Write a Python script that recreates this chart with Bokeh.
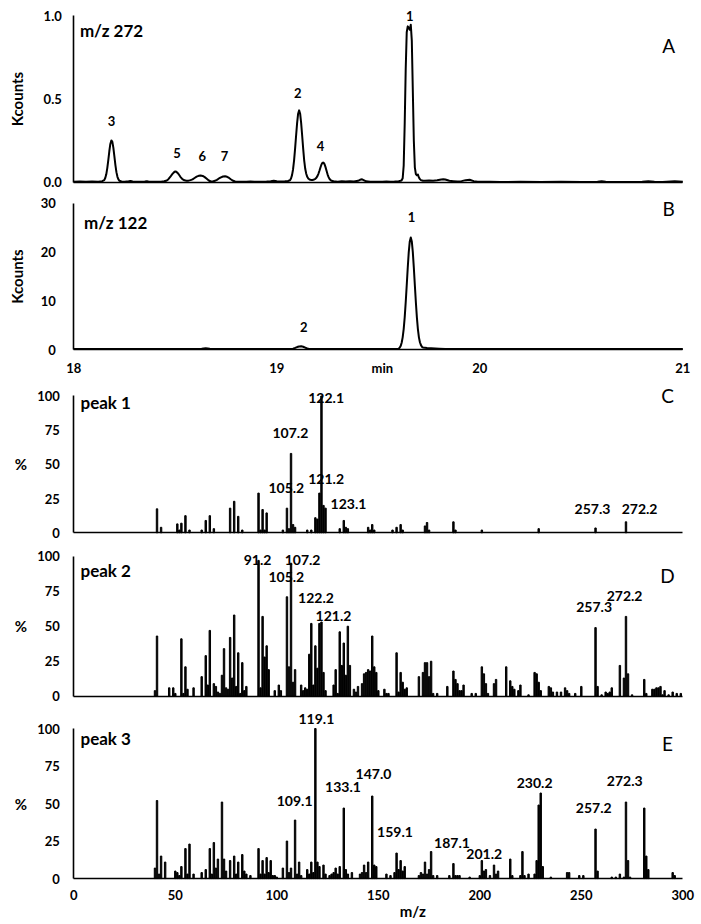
import math
from bokeh.plotting import figure
from bokeh.models import FixedTicker, Label, LabelSet, ColumnDataSource, Range1d, NumeralTickFormatter
from bokeh.layouts import column
from bokeh.embed import file_html
from bokeh.resources import INLINE
from bokeh.core.properties import value

FONT = "Lato"

# ---------------- data ----------------
# Panel A: m/z 272 extracted ion chromatogram (time in min, Kcounts)
chrom_a = [
    (18.00, 0.004), (18.03, 0.006), (18.06, 0.004), (18.09, 0.006), (18.12, 0.005), (18.14, 0.008),
    (18.15, 0.014), (18.155, 0.027), (18.16, 0.049), (18.165, 0.086), (18.17, 0.134), (18.175, 0.187),
    (18.18, 0.231), (18.185, 0.252), (18.19, 0.243), (18.195, 0.207), (18.20, 0.156), (18.205, 0.104),
    (18.21, 0.062), (18.215, 0.034), (18.22, 0.018), (18.225, 0.010), (18.235, 0.006),
    (18.25, 0.005), (18.27, 0.007), (18.28, 0.009), (18.29, 0.006), (18.31, 0.004), (18.33, 0.005),
    (18.35, 0.006), (18.36, 0.008), (18.37, 0.005), (18.39, 0.004), (18.41, 0.005), (18.43, 0.005),
    (18.445, 0.007), (18.455, 0.010), (18.465, 0.018), (18.475, 0.033), (18.485, 0.050), (18.495, 0.063),
    (18.50, 0.066), (18.505, 0.064), (18.515, 0.052), (18.525, 0.034), (18.535, 0.020), (18.545, 0.013),
    (18.555, 0.011), (18.565, 0.011),
    (18.575, 0.014), (18.585, 0.019), (18.595, 0.027), (18.605, 0.035), (18.615, 0.040), (18.625, 0.042),
    (18.635, 0.039), (18.645, 0.032), (18.655, 0.022), (18.665, 0.012), (18.675, 0.006), (18.685, 0.006),
    (18.695, 0.010), (18.705, 0.016), (18.715, 0.024), (18.725, 0.031), (18.735, 0.036), (18.745, 0.037),
    (18.755, 0.034), (18.765, 0.027), (18.775, 0.018), (18.785, 0.010), (18.795, 0.006),
    (18.81, 0.004), (18.83, 0.005), (18.85, 0.004), (18.87, 0.006), (18.89, 0.005), (18.91, 0.004),
    (18.93, 0.005), (18.95, 0.006), (18.97, 0.008), (18.985, 0.011), (19.00, 0.008), (19.02, 0.006),
    (19.04, 0.007), (19.055, 0.009),
    (19.065, 0.013), (19.07, 0.024), (19.075, 0.044), (19.08, 0.078), (19.085, 0.131), (19.09, 0.201),
    (19.095, 0.280), (19.10, 0.356), (19.105, 0.412), (19.11, 0.432), (19.115, 0.412), (19.12, 0.356),
    (19.125, 0.280), (19.13, 0.201), (19.135, 0.131), (19.14, 0.082), (19.145, 0.052), (19.15, 0.034),
    (19.155, 0.024), (19.16, 0.019), (19.165, 0.016), (19.17, 0.015), (19.175, 0.015), (19.18, 0.016),
    (19.185, 0.019),
    (19.19, 0.022), (19.195, 0.028), (19.20, 0.038), (19.205, 0.052), (19.21, 0.070), (19.215, 0.090),
    (19.22, 0.108), (19.225, 0.118), (19.23, 0.119), (19.235, 0.110), (19.24, 0.092), (19.245, 0.070),
    (19.25, 0.049), (19.255, 0.032), (19.26, 0.021), (19.265, 0.014), (19.27, 0.010), (19.28, 0.007),
    (19.30, 0.005), (19.32, 0.007), (19.34, 0.006), (19.36, 0.008), (19.38, 0.006), (19.40, 0.010),
    (19.41, 0.016), (19.42, 0.019), (19.43, 0.013), (19.44, 0.007), (19.46, 0.005), (19.48, 0.004),
    (19.50, 0.005), (19.52, 0.004), (19.54, 0.006), (19.56, 0.005), (19.58, 0.006), (19.60, 0.008),
    (19.61, 0.010),
    (19.615, 0.013), (19.62, 0.025), (19.625, 0.10), (19.63, 0.35), (19.635, 0.68), (19.64, 0.90),
    (19.645, 0.935), (19.65, 0.925), (19.655, 0.915), (19.66, 0.945), (19.665, 0.85), (19.67, 0.55),
    (19.675, 0.25), (19.68, 0.09), (19.685, 0.05), (19.69, 0.043), (19.695, 0.048), (19.70, 0.030),
    (19.705, 0.020), (19.71, 0.014), (19.72, 0.010),
    (19.73, 0.010), (19.75, 0.012), (19.77, 0.010), (19.79, 0.013), (19.81, 0.018), (19.82, 0.020),
    (19.83, 0.018), (19.85, 0.010), (19.87, 0.008), (19.89, 0.006), (19.91, 0.008), (19.93, 0.014),
    (19.95, 0.016), (19.97, 0.008), (19.99, 0.004), (20.05, 0.004), (20.10, 0.003), (20.20, 0.004),
    (20.30, 0.003), (20.40, 0.004), (20.50, 0.003), (20.58, 0.004), (20.60, 0.008), (20.62, 0.004),
    (20.70, 0.003), (20.80, 0.004), (20.83, 0.007), (20.86, 0.004), (20.90, 0.003), (20.96, 0.008),
    (21.00, 0.004),
]

# Panel B: m/z 122 extracted ion chromatogram (time in min, Kcounts)
chrom_b = [
    (18.00, 0.1), (18.30, 0.1), (18.60, 0.1), (18.63, 0.15), (18.65, 0.25), (18.67, 0.15), (18.70, 0.1),
    (19.00, 0.1), (19.07, 0.12), (19.08, 0.18), (19.09, 0.32), (19.10, 0.50), (19.11, 0.63), (19.12, 0.66),
    (19.13, 0.57), (19.14, 0.38), (19.15, 0.20), (19.16, 0.12), (19.18, 0.1), (19.50, 0.1), (19.59, 0.12),
    (19.60, 0.16), (19.605, 0.35), (19.61, 0.7), (19.615, 1.4), (19.62, 2.5), (19.625, 4.2), (19.63, 6.6),
    (19.635, 9.7), (19.64, 13.2), (19.645, 16.8), (19.65, 20.0), (19.655, 22.2), (19.66, 23.0),
    (19.665, 22.2), (19.67, 20.0), (19.675, 16.8), (19.68, 13.2), (19.685, 9.7), (19.69, 6.6),
    (19.695, 4.2), (19.70, 2.5), (19.705, 1.5), (19.71, 0.9), (19.715, 0.55), (19.72, 0.4), (19.74, 0.3),
    (19.76, 0.25), (19.78, 0.2), (19.80, 0.15), (19.83, 0.1), (21.00, 0.1),
]

# chromatogram peak numbers (label text, time, label height)
peaks_a = [("1", 19.655, 1.00), ("2", 19.103, 0.535), ("3", 18.186, 0.371), ("4", 19.215, 0.217),
           ("5", 18.509, 0.175), ("6", 18.633, 0.157), ("7", 18.742, 0.157)]
peaks_b = [("1", 19.664, 27.2), ("2", 19.133, 4.6)]

time_ticks = [18, 19, 20, 21]
mz_ticks = [0, 50, 100, 150, 200, 250, 300]
pct_ticks = [0, 25, 50, 75, 100]
kc_a_ticks = [0.0, 0.5, 1.0]
kc_b_ticks = [0, 10, 20, 30]

# Panel C: mass spectrum of peak 1 (m/z, relative %)
mz_c = [41, 43, 51, 52, 53, 55, 57, 63, 65, 67, 69, 77, 79, 81, 83, 91, 92, 93, 94, 95, 103, 105, 106,
        107, 108, 109, 115, 117, 119, 120, 121, 122, 123, 124, 131, 133, 134, 135, 145, 146, 147, 148,
        157, 159, 161, 162, 173, 174, 175, 187, 188, 201, 229, 257, 272]
int_c = [17.5, 4, 6.5, 2, 7, 12.5, 2, 2, 9, 12.5, 3, 18, 23, 12, 2, 29, 2, 17, 2, 14.5, 2, 18, 3,
         58, 6, 4, 2, 2, 11, 10, 29, 100, 20, 18, 3, 9, 4, 3, 4, 2, 6, 2,
         2, 4, 6, 2, 5, 7.5, 2, 8, 2, 2, 3, 3.5, 8]

# Panel D: mass spectrum of peak 2
mz_d = [40, 41, 47, 49, 50, 53, 54, 55, 56, 59, 63, 65, 66, 67, 69, 70, 71, 72, 73, 74, 75, 76, 77, 78,
        79, 80, 81, 82, 83, 84, 85, 91, 92, 93, 94, 95, 96, 99, 101, 102, 105, 106, 107, 108, 109, 112,
        113, 114, 115, 116, 117, 118, 119, 120, 121, 122, 123, 124, 128, 129, 130, 131, 132, 133, 134,
        135, 136, 138, 139, 140, 142, 143, 144, 145, 146, 147, 148, 149, 150, 153, 154, 155, 159, 160,
        161, 162, 163, 164, 170, 172, 173, 174, 175, 176, 177, 179, 184, 187, 188, 189, 190, 191, 192,
        196, 198, 201, 202, 203, 204, 207, 208, 213, 215, 216, 217, 219, 220, 224, 227, 228, 229, 230,
        234, 235, 236, 238, 240, 242, 243, 244, 247, 250, 257, 258, 260, 262, 263, 264, 265, 269, 271,
        272, 273, 275, 281, 282, 285, 286, 287, 288, 289, 290, 291, 293, 295, 297, 299]
int_d = [4, 43, 6, 6, 2, 41, 2, 21, 5, 6, 14, 29, 8, 47, 9, 7, 3, 2, 15, 34, 6, 5, 42, 13,
         58, 7, 31, 2, 24, 4, 7, 97, 6, 57, 28, 36, 19, 4, 8, 4, 71, 21, 95, 10, 19, 8,
         4, 6, 5, 30, 52, 8, 36, 20, 52, 53, 17, 4, 8, 19, 2, 46, 22, 38, 15,
         50, 22, 5, 3, 7, 9, 16, 17, 19, 18, 43, 21, 17, 4, 5, 2, 2, 31, 3,
         17, 10, 5, 6, 14, 17, 24, 24, 14, 25, 2, 2, 7, 18, 12, 9, 4, 4, 8,
         2, 2, 21, 16, 9, 2, 9, 12, 21, 11, 7, 5, 4, 8, 1, 17, 16, 10, 4,
         7, 6, 3, 3, 3, 6, 4, 2, 2, 7, 49, 7, 1, 3, 2, 3, 6, 22, 13,
         57, 16, 1, 12, 2, 5, 5, 6, 6, 7, 1, 4, 1, 3, 2, 2]

# Panel E: mass spectrum of peak 3
mz_e = [40, 41, 42, 43, 45, 50, 51, 52, 53, 55, 56, 57, 59, 63, 65, 67, 68, 69, 70, 71, 73, 74, 75, 77,
        79, 80, 81, 83, 84, 85, 87, 91, 92, 93, 94, 95, 96, 97, 98, 99, 100, 103, 105, 106, 107, 109,
        110, 111, 112, 115, 116, 117, 118, 119, 120, 121, 123, 124, 126, 127, 128, 129, 130, 131, 133,
        134, 135, 137, 141, 142, 143, 144, 145, 147, 148, 149, 154, 156, 158, 159, 160, 161, 162, 163,
        170, 171, 172, 173, 174, 175, 176, 177, 179, 185, 187, 188, 189, 190, 195, 200, 201, 202, 203,
        205, 207, 208, 209, 215, 216, 220, 221, 222, 224, 227, 228, 229, 230, 231, 235, 243, 244, 249,
        251, 257, 258, 265, 267, 269, 271, 272, 273, 274, 281, 282, 283, 295, 296]
int_e = [7, 52, 3, 15, 11, 5, 4, 2, 8, 20, 3, 23, 3, 4, 6, 20, 3, 24, 7, 13, 51, 13, 5, 12,
         15, 3, 11, 16, 5, 3, 2, 20, 3, 12, 3, 14, 4, 12, 2, 2, 1, 7, 25, 4, 7, 39,
         3, 11, 2, 6, 3, 11, 4, 100, 11, 8, 9, 3, 2, 3, 4, 7, 3, 8, 47,
         6, 3, 4, 3, 4, 9, 4, 11, 55, 9, 8, 3, 2, 4, 17, 6, 12, 5, 8,
         2, 4, 3, 11, 3, 6, 18, 2, 2, 2, 10, 2, 2, 2, 1, 2, 12, 5, 6,
         2, 9, 3, 5, 13, 2, 2, 18, 2, 3, 3, 12, 49, 57, 8, 1, 4, 4, 2,
         2, 33, 5, 1, 1, 3, 1, 51, 12, 1, 47, 15, 6, 4, 2]

# labelled ions (text, m/z position of label, label height %)
labels_c = [("122.1", 124.3, 98.4), ("107.2", 106.7, 73), ("105.2", 104.7, 32.5), ("121.2", 124.3, 39.4),
            ("123.1", 135.3, 21), ("257.3", 255.5, 17.5), ("272.2", 278.7, 17.5)]
labels_d = [("91.2", 90.5, 97.6), ("107.2", 112.7, 97.6), ("105.2", 104.7, 85), ("122.2", 119.3, 70),
            ("121.2", 127.9, 57.6), ("257.3", 256.3, 63.5), ("272.2", 271.3, 71.9)]
labels_e = [("119.1", 119.5, 106.5), ("109.1", 108.8, 52), ("133.1", 132.6, 61), ("147.0", 147.6, 70),
            ("159.1", 158.2, 31), ("187.1", 186.3, 24), ("201.2", 202.2, 16.4), ("230.2", 227.0, 64),
            ("257.2", 256.1, 47), ("272.3", 271.4, 64.7)]

# placement of texts / view windows (data units)
MIN_LABEL_AT = 19.52
MZ_TITLE_AT = (167, -21.5)
PCT_TITLE_X = -26.0
KC_TITLE_T = 17.718
TIME_VIEW = (17.639, 21.092)
MZ_VIEW = (-36.1, 309.2)


# ---------------- helpers ----------------
def make_fig(xr, yr, height, x_bounds, y_bounds, x0, y0):
    p = figure(frame_width=701, frame_height=height, x_range=Range1d(*xr), y_range=Range1d(*yr),
               output_backend="svg", toolbar_location=None,
               min_border_left=0, min_border_right=0, min_border_top=0, min_border_bottom=0)
    p.grid.visible = False
    p.outline_line_color = None
    p.background_fill_color = "white"
    p.border_fill_color = "white"
    for ax in (p.xaxis[0], p.yaxis[0]):
        ax.axis_line_color = "black"
        ax.axis_line_width = 1.6
        ax.major_tick_line_color = None
        ax.minor_tick_line_color = None
        ax.major_tick_out = 0
        ax.major_tick_in = 0
        ax.major_label_text_font = FONT
        ax.major_label_text_font_style = "bold"
        ax.major_label_text_font_size = "13px"
        ax.major_label_text_color = "black"
    p.xaxis.fixed_location = y0
    p.yaxis.fixed_location = x0
    p.xaxis.bounds = x_bounds
    p.yaxis.bounds = y_bounds
    p.xaxis.ticker = FixedTicker(ticks=[])
    return p


def add_text(p, text, x, y, size, bold=True, align="left", angle=0.0):
    p.add_layout(Label(x=x, y=y, text=text, text_font=FONT, text_font_size=size, angle=angle,
                       text_font_style="bold" if bold else "normal", text_align=align,
                       text_baseline="middle", text_color="black"))


def add_labelset(p, items, size):
    src = ColumnDataSource(dict(t=[i[0] for i in items], x=[i[1] for i in items], y=[i[2] for i in items]))
    p.add_layout(LabelSet(x="x", y="y", text="t", source=src, text_font=value(FONT),
                          text_font_size=size, text_font_style="bold", text_align="center",
                          text_baseline="middle", text_color="black"))


# ---------------- Panel A ----------------
pA = make_fig(TIME_VIEW, (-0.06, 1.09), 192, (18, 21), (0, 1.0), 18, 0)
pA.line([c[0] for c in chrom_a], [c[1] for c in chrom_a], line_width=2, color="black", line_join="round")
pA.yaxis.ticker = FixedTicker(ticks=kc_a_ticks)
pA.yaxis.formatter = NumeralTickFormatter(format="0.0")
pA.yaxis.major_label_standoff = 12
add_labelset(pA, peaks_a, "13px")
add_text(pA, "Kcounts", KC_TITLE_T, 0.5, "15px", align="center", angle=math.pi / 2)
add_text(pA, "m/z 272", 18.03, 0.91, "17px")
add_text(pA, "A", 20.93, 0.82, "19px", bold=False, align="center")

# ---------------- Panel B ----------------
pB = make_fig(TIME_VIEW, (-7.19, 32.26), 192, (18, 21), (0, 30), 18, 0)
pB.line([c[0] for c in chrom_b], [c[1] for c in chrom_b], line_width=2, color="black", line_join="round")
pB.xaxis.ticker = FixedTicker(ticks=time_ticks + [MIN_LABEL_AT])
pB.xaxis.major_label_overrides = {MIN_LABEL_AT: "min"}
pB.xaxis.major_label_standoff = 10
pB.yaxis.ticker = FixedTicker(ticks=kc_b_ticks)
pB.yaxis.major_label_standoff = 18
add_labelset(pB, peaks_b, "13px")
add_text(pB, "Kcounts", KC_TITLE_T, 15.0, "15px", align="center", angle=math.pi / 2)
add_text(pB, "m/z 122", 18.05, 26.0, "17px")
add_text(pB, "B", 20.93, 28.9, "19px", bold=False, align="center")


# ---------------- spectra ----------------
def spectrum(mz, inten, labels, title, letter, yr, height, title_y, letter_y, show_x=False):
    p = make_fig(MZ_VIEW, yr, height, (0, 300), (0, 100), 0, 0)
    p.vbar(x=mz, top=inten, width=0.7, color="black")
    p.yaxis.ticker = FixedTicker(ticks=pct_ticks)
    p.yaxis.major_label_standoff = 14
    if show_x:
        p.xaxis.ticker = FixedTicker(ticks=mz_ticks)
        p.xaxis.major_label_standoff = 11
        add_text(p, "m/z", MZ_TITLE_AT[0], MZ_TITLE_AT[1], "15px", align="center")
    add_labelset(p, labels, "14px")
    add_text(p, "%", PCT_TITLE_X, 50, "15px", align="center")
    add_text(p, title, 3.3, title_y, "17px")
    add_text(p, letter, 292.5, letter_y, "19px", bold=False, align="center")
    return p


pC = spectrum(mz_c, int_c, labels_c, "peak 1", "C", (-11.5, 108.4), 164, 95, 100)
pD = spectrum(mz_d, int_d, labels_d, "peak 2", "D", (-5.9, 105.5), 156, 90, 86.4)
pE = spectrum(mz_e, int_e, labels_e, "peak 3", "E", (-30.6, 116.0), 220, 93.3, 90, show_x=True)

layout = column(pA, pB, pC, pD, pE, spacing=0)
open("out.html", "w").write(file_html(layout, INLINE))
